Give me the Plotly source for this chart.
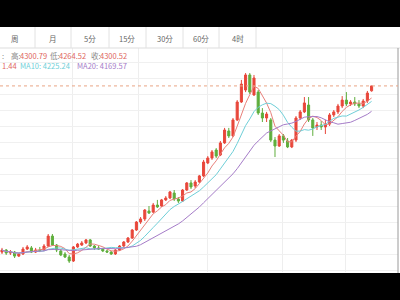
import plotly.graph_objects as go
import pandas as pd

# ---- data ----
opens = [3262, 3275, 3256, 3262, 3237, 3250, 3281, 3288, 3262, 3275,
         3275, 3300, 3362, 3306, 3269, 3250, 3231, 3206, 3294, 3306,
         3319, 3338, 3300, 3288, 3281, 3269, 3262, 3250, 3275, 3300,
         3325, 3350, 3400, 3450, 3469, 3519, 3512, 3556, 3550, 3588,
         3600, 3631, 3594, 3581, 3650, 3694, 3675, 3700, 3738, 3819,
         3850, 3900, 3869, 3944, 4019, 3988, 4088, 4200, 4275, 4369,
         4244, 4262, 4131, 4100, 4088, 3962, 3925, 3988, 3956, 3919,
         3962, 4100, 4138, 4181, 4088, 4044, 4056, 4044, 4062, 4119,
         4138, 4175, 4212, 4188, 4200, 4188, 4175, 4206, 4270]
highs = [3288, 3281, 3275, 3269, 3256, 3294, 3306, 3300, 3288, 3294,
         3312, 3375, 3375, 3312, 3281, 3262, 3244, 3300, 3319, 3331,
         3344, 3344, 3306, 3300, 3288, 3275, 3269, 3281, 3306, 3331,
         3356, 3406, 3456, 3481, 3531, 3550, 3569, 3588, 3594, 3612,
         3644, 3650, 3606, 3656, 3700, 3712, 3712, 3744, 3838, 3862,
         3900, 3912, 3956, 4038, 4038, 4100, 4212, 4338, 4381, 4381,
         4369, 4275, 4162, 4138, 4100, 3981, 4000, 4000, 3975, 3969,
         4112, 4150, 4231, 4231, 4100, 4075, 4081, 4088, 4131, 4150,
         4188, 4237, 4262, 4212, 4231, 4212, 4219, 4269, 4300.79]
lows = [3250, 3244, 3244, 3225, 3231, 3244, 3275, 3256, 3256, 3262,
        3269, 3294, 3300, 3262, 3237, 3225, 3194, 3200, 3288, 3300,
        3312, 3294, 3275, 3275, 3262, 3256, 3244, 3244, 3269, 3294,
        3319, 3344, 3394, 3438, 3456, 3500, 3506, 3538, 3544, 3581,
        3594, 3581, 3569, 3575, 3644, 3656, 3662, 3694, 3731, 3812,
        3838, 3850, 3862, 3938, 3975, 3981, 4081, 4194, 4262, 4250,
        4238, 4119, 4075, 4075, 3950, 3856, 3919, 3944, 3912, 3912,
        3950, 4088, 4131, 4075, 3988, 4025, 4025, 4000, 4050, 4106,
        4125, 4162, 4175, 4175, 4175, 4162, 4162, 4194, 4264.52]
closes = [3275, 3256, 3262, 3237, 3250, 3281, 3294, 3262, 3275, 3272,
          3300, 3362, 3306, 3275, 3244, 3231, 3206, 3294, 3312, 3319,
          3338, 3300, 3288, 3281, 3269, 3262, 3250, 3275, 3300, 3325,
          3350, 3400, 3450, 3469, 3525, 3506, 3556, 3544, 3588, 3600,
          3638, 3594, 3581, 3650, 3694, 3669, 3700, 3738, 3825, 3850,
          3888, 3862, 3944, 4025, 3988, 4088, 4200, 4312, 4369, 4262,
          4350, 4131, 4100, 4125, 3962, 3925, 3988, 3962, 3919, 3962,
          4100, 4138, 4194, 4088, 4038, 4056, 4044, 4062, 4119, 4138,
          4175, 4212, 4188, 4200, 4188, 4175, 4206, 4256, 4300.52]
idx = list(range(len(closes)))

ma_periods = [5, 10, 20]
ma_colors = ["#e8807a", "#6fcfd8", "#a57cc8"]
grid_x = [16.7, 32.4, 49.0, 66.7, 81.7]
tabs = ["周", "月", "5分", "15分", "30分", "60分", "4时"]
tab_centers_px = [15, 53, 90, 127.5, 164.5, 201, 237.5]
tab_seps_px = [35, 71, 109, 146, 183, 219, 256]
info_texts = [":", "高:", "4300.79", "低:", "4264.52", "收:", "4300.52"]
info_x_px = [0, 9, 18, 48, 57, 89, 98]
ma_labels = ["1.44", "MA10: 4225.24", "MA20: 4169.57"]
ma_label_x_px = [0, 18, 75]

UP = "#e8473b"
DOWN = "#5fae3c"
LABEL_GRAY = "#8a8a8a"
VAL_RED = "#e0665e"
FONT = "Noto Sans CJK SC, Noto Sans, sans-serif"

fig = go.Figure()
fig.add_trace(go.Candlestick(
    x=idx, open=opens, high=highs, low=lows, close=closes,
    increasing=dict(line=dict(color=UP, width=1), fillcolor=UP),
    decreasing=dict(line=dict(color=DOWN, width=1), fillcolor=DOWN),
    whiskerwidth=0, showlegend=False, hoverinfo="skip",
))
s = pd.Series(closes)
for p, c in zip(ma_periods, ma_colors):
    fig.add_trace(go.Scatter(x=idx, y=s.rolling(p, min_periods=1).mean(),
                             mode="lines", line=dict(color=c, width=1),
                             showlegend=False, hoverinfo="skip"))

W, H = 400, 300
def px_x(v): return v / W
def px_y(v): return 1 - v / H

shapes = []
# black bands
shapes.append(dict(type="rect", xref="paper", yref="paper", x0=0, x1=1,
                   y0=px_y(27), y1=1, fillcolor="black", line_width=0, layer="above"))
shapes.append(dict(type="rect", xref="paper", yref="paper", x0=0, x1=1,
                   y0=0, y1=px_y(273), fillcolor="black", line_width=0, layer="above"))
# tab bar borders
shapes.append(dict(type="line", xref="paper", yref="paper", x0=0, x1=1,
                   y0=px_y(48), y1=px_y(48), line=dict(color="#dddddd", width=1)))
for sx in tab_seps_px:
    shapes.append(dict(type="line", xref="paper", yref="paper", x0=px_x(sx), x1=px_x(sx),
                       y0=px_y(48), y1=px_y(27), line=dict(color="#e2e2e2", width=1)))
# right border
shapes.append(dict(type="line", xref="paper", yref="paper", x0=px_x(398), x1=px_x(398),
                   y0=px_y(273), y1=px_y(48), line=dict(color="#9a9a9a", width=1)))
# current price dashed line
shapes.append(dict(type="line", xref="paper", yref="y", x0=0, x1=px_x(398),
                   y0=closes[-1], y1=closes[-1],
                   line=dict(color="#e9a584", width=1, dash="dot")))

annotations = []
for t, cx in zip(tabs, tab_centers_px):
    annotations.append(dict(text=t, xref="paper", yref="paper", x=px_x(cx), y=px_y(38),
                            xanchor="center", yanchor="middle", showarrow=False,
                            font=dict(family=FONT, size=7.5, color="#666666")))
for i, (t, xp) in enumerate(zip(info_texts, info_x_px)):
    col = VAL_RED if t[0].isdigit() else LABEL_GRAY
    annotations.append(dict(text=t, xref="paper", yref="paper", x=px_x(xp), y=px_y(56),
                            xanchor="left", yanchor="middle", showarrow=False,
                            font=dict(family=FONT, size=7.5, color=col)))
for t, xp, c in zip(ma_labels, ma_label_x_px, ma_colors):
    annotations.append(dict(text=t, xref="paper", yref="paper", x=px_x(xp), y=px_y(66),
                            xanchor="left", yanchor="middle", showarrow=False,
                            font=dict(family=FONT, size=7.5, color=c if c != ma_colors[0] else "#e0665e")))

fig.update_layout(
    width=W, height=H, margin=dict(l=0, r=0, t=0, b=0),
    paper_bgcolor="white", plot_bgcolor="white",
    shapes=shapes, annotations=annotations,
    xaxis=dict(domain=[0, px_x(398)], range=[-0.476, 94.29], rangeslider=dict(visible=False),
               tickvals=grid_x, showticklabels=False, showgrid=True,
               gridcolor="#eeeeee", gridwidth=1, zeroline=False, showline=False, ticks=""),
    yaxis=dict(domain=[px_y(272), px_y(48)], range=[3137.5, 4537.5], tick0=4350, dtick=100,
               showticklabels=False, showgrid=True, gridcolor="#f0f0f0", gridwidth=1,
               zeroline=False, showline=False, ticks=""),
)
fig.write_html("out.html")
